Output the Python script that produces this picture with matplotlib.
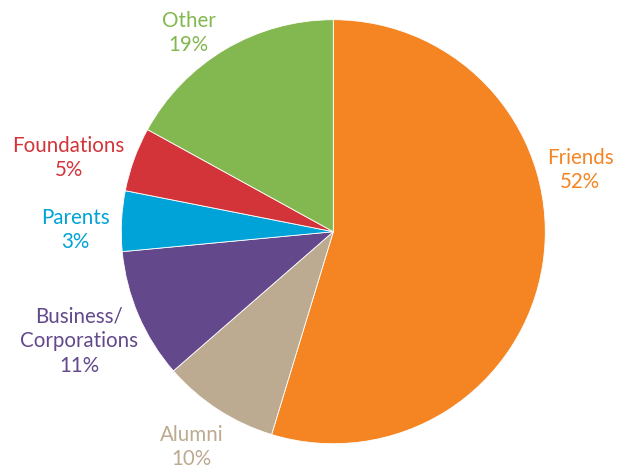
"""Pie chart of giving sources (Friends, Alumni, Business, Parents, Foundations, Other)."""
import matplotlib
matplotlib.use("Agg")
import matplotlib.pyplot as plt

# slice shares as drawn, and the printed labels
categories = ["Friends", "Alumni", "Business/\nCorporations", "Parents", "Foundations", "Other"]
shares = [54.7, 8.9, 9.9, 4.6, 4.9, 17.0]
printed_pct = ["52%", "10%", "11%", "3%", "5%", "19%"]
colors = ["#F58522", "#BCAA91", "#63488B", "#00A3D7", "#D2343A", "#83B74F"]

# label centres in pie units (radius = 1)
label_pos = [(1.164, 0.291), (-0.669, -1.016), (-1.199, -0.516),
             (-1.218, 0.008), (-1.248, 0.348), (-0.681, 0.937)]

W, H, DPI = 623, 468, 100
CX, CY, R = 333.3, 231.7, 212.0  # pixel centre and radius

fig = plt.figure(figsize=(W / DPI, H / DPI), dpi=DPI, facecolor="white")
ax = fig.add_axes([0, 0, 1, 1])
ax.pie(shares, colors=colors, startangle=90, counterclock=False,
       wedgeprops=dict(edgecolor="white", linewidth=0.6))
ax.set_xlim(-CX / R, (W - CX) / R)
ax.set_ylim(-(H - CY) / R, CY / R)
ax.set_aspect("auto")
ax.axis("off")

for name, pct, col, (x, y) in zip(categories, printed_pct, colors, label_pos):
    ax.text(x, y, f"{name}\n{pct}", color=col, ha="center", va="center",
            fontsize=14.8, family=["Lato", "DejaVu Sans"], linespacing=1.3)

fig.savefig("out.png", dpi=DPI, facecolor="white")
